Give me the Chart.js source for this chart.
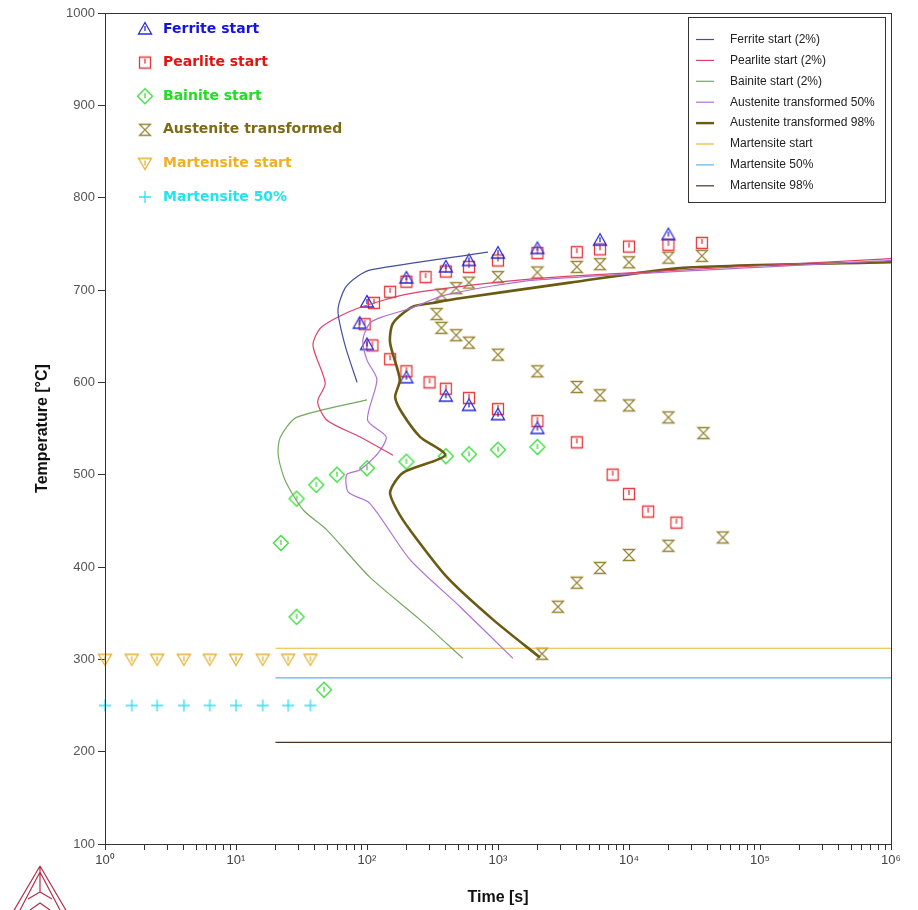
<!DOCTYPE html>
<html>
<head>
<meta charset="utf-8">
<script src="https://cdn.jsdelivr.net/npm/chart.js@4.4.1/dist/chart.umd.min.js"></script>
<style>
  html, body { margin: 0; padding: 0; background: #fff; }
  #wrap { width: 918px; height: 910px; }
</style>
</head>
<body>
<div id="wrap"><canvas id="ttt" width="918" height="910"></canvas></div>
<script>
// measured points, [time s, temperature C]
var ferriteStart = [[100,687],[88,664],[100,641],[200,605],[400,585],[600,575],[1000,565],[2000,550],
  [200,713],[400,725],[600,732],[1000,740],[2000,745],[6000,754],[20000,760]];
var pearliteStart = [[113,686],[96,663],[110,640],[150,698],[200,709],[280,714],[400,720],[600,725],
  [1000,732],[2000,740],[4000,741],[6000,744],[10000,747],[20000,749],[36000,751],
  [150,625],[200,612],[300,600],[400,593],[600,583],[1000,571],[2000,558],[4000,535],
  [7500,500],[10000,479],[14000,460],[23000,448]];
var bainiteStart = [[22,426],[29,346],[29,474],[41,489],[59,500],[100,507],[200,514],[400,520],
  [600,522],[1000,527],[2000,530],[47,267]];
var austeniteTransformed = [[370,695],[480,702],[600,708],[1000,714],[2000,719],[4000,725],[6000,728],
  [10000,730],[20000,735],[36000,737],
  [340,674],[370,659],[480,651],[600,643],[1000,630],[2000,612],[4000,595],[6000,586],
  [10000,575],[20000,562],[37000,545],
  [2170,306],[2870,357],[4000,383],[6000,399],[10000,413],[20000,423],[52000,432]];
var martensiteTimes = [1,1.6,2.5,4,6.3,10,16,25,37];
var martensiteStartTemp = 300;
var martensite50Temp = 250;

// calculated curves
var ferriteCurve = [[84,600],[68,640],[60,678],[68,702],[85,715],[109,722],[839,741]];
var pearliteCurve = [[158,521],[88,541],[49.5,559],[42,579],[48,599],[38.7,640],[45,660],[84,680],
  [213,696],[1092,709],[3545,715],[1e6,734]];
var bainiteCurve = [[541,301],[254,343],[105,389],[49.5,440],[32.5,462],[23.7,494],[21,521],
  [21.7,540],[29,562],[100,581]];
var austenite50Curve = [[1300,301],[513,357],[213,408],[105,469],[72,481],[70,500],[88,505],
  [121,523],[140,541],[101,559],[119,603],[100,624],[93,646],[105,664],[132,671],[213,680],
  [408,695],[2000,711],[1e6,732]];
var austenite98Curve = [[2090,302],[916,343],[408,389],[213,440],[169,462],[150,481],[188,502],
  [394,521],[254,541],[185,567],[164,584],[178,603],[150,643],[158,664],[224,682],[319,686],
  [513,691],[3540,708],[25800,724],[1e6,730]];
var msLine = [[20,312],[1e6,312]];
var m50Line = [[20,280],[1e6,280]];
var m98Line = [[20,210],[1e6,210]];

var xTickLabels = ['10\u2070','10\u00b9','10\u00b2','10\u00b3','10\u2074','10\u2075','10\u2076'];

function xy(list) {
  return list.map(function(p) { return {x: p[0], y: p[1]}; });
}

function makeMarker(kind, color) {
  var c = document.createElement('canvas');
  c.width = 18; c.height = 18;
  var g = c.getContext('2d');
  g.strokeStyle = color;
  g.lineWidth = 1.3;
  g.beginPath();
  if (kind === 'tri') {
    g.moveTo(9, 2.5); g.lineTo(15.5, 14); g.lineTo(2.5, 14); g.closePath();
    g.moveTo(9, 6); g.lineTo(9, 11);
  } else if (kind === 'square') {
    g.rect(3.5, 3.5, 11, 11);
    g.moveTo(9, 5); g.lineTo(9, 10);
  } else if (kind === 'diamond') {
    g.moveTo(9, 1.5); g.lineTo(16.5, 9); g.lineTo(9, 16.5); g.lineTo(1.5, 9); g.closePath();
    g.moveTo(9, 6); g.lineTo(9, 11);
  } else if (kind === 'hour') {
    g.moveTo(3.5, 3.5); g.lineTo(14.5, 3.5); g.lineTo(3.5, 14.5); g.lineTo(14.5, 14.5); g.closePath();
  } else if (kind === 'down') {
    g.moveTo(2.5, 4); g.lineTo(15.5, 4); g.lineTo(9, 15); g.closePath();
    g.moveTo(9, 6); g.lineTo(9, 11);
  } else if (kind === 'plus') {
    g.moveTo(9, 3); g.lineTo(9, 15); g.moveTo(3, 9); g.lineTo(15, 9);
  }
  g.stroke();
  return c;
}

var markerSets = [
  {label: 'Ferrite start', data: ferriteStart, kind: 'tri', color: '#2a2ad8', text: '#1414e0'},
  {label: 'Pearlite start', data: pearliteStart, kind: 'square', color: '#e8383c', text: '#e01414'},
  {label: 'Bainite start', data: bainiteStart, kind: 'diamond', color: '#3ade3a', text: '#22dd22'},
  {label: 'Austenite transformed', data: austeniteTransformed, kind: 'hour', color: '#978634', text: '#7d6a14'},
  {label: 'Martensite start', data: martensiteTimes.map(function(t) { return [t, martensiteStartTemp]; }),
    kind: 'down', color: '#e4b030', text: '#f0b020'},
  {label: 'Martensite 50%', data: martensiteTimes.map(function(t) { return [t, martensite50Temp]; }),
    kind: 'plus', color: '#30e0ee', text: '#22e4f0'}
];

var curveSets = [
  {label: 'Ferrite start (2%)', data: ferriteCurve, color: '#44509e', width: 1.2},
  {label: 'Pearlite start (2%)', data: pearliteCurve, color: '#e0406a', width: 1.2},
  {label: 'Bainite start (2%)', data: bainiteCurve, color: '#76a860', width: 1.2},
  {label: 'Austenite transformed 50%', data: austenite50Curve, color: '#b070d0', width: 1.2},
  {label: 'Austenite transformed 98%', data: austenite98Curve, color: '#6a5a12', width: 2.6},
  {label: 'Martensite start', data: msLine, color: '#e8b838', width: 1.2},
  {label: 'Martensite 50%', data: m50Line, color: '#62b4e0', width: 1.2},
  {label: 'Martensite 98%', data: m98Line, color: '#4a3424', width: 1.2}
];

var datasets = [];
curveSets.forEach(function(s) {
  datasets.push({
    label: s.label, data: xy(s.data), showLine: true, borderColor: s.color,
    borderWidth: s.width, pointRadius: 0, tension: 0.25, fill: false
  });
});
markerSets.forEach(function(s) {
  var img = makeMarker(s.kind, s.color);
  s.img = img;
  datasets.push({
    label: s.label, data: xy(s.data), showLine: false, pointStyle: img,
    pointRadius: 8, borderColor: s.color, clip: false
  });
});

// frame, logo and both keys
var decorations = {
  id: 'decorations',
  afterDraw: function(chart) {
    var ctx = chart.ctx, a = chart.chartArea;
    ctx.save();
    ctx.strokeStyle = '#333';
    ctx.lineWidth = 1;
    ctx.strokeRect(a.left + 0.5, a.top + 0.5, a.right - a.left, a.bottom - a.top);

    // marker key, upper left
    ctx.font = 'bold 14px "DejaVu Sans", Verdana, sans-serif';
    ctx.textBaseline = 'middle';
    markerSets.forEach(function(s, i) {
      var y = 29 + i * 33.6;
      ctx.drawImage(s.img, 145 - 9, y - 9);
      ctx.fillStyle = s.text;
      ctx.fillText(s.label, 163, y);
    });

    // curve key, upper right
    ctx.fillStyle = '#fff';
    ctx.fillRect(688, 17, 197, 185);
    ctx.strokeStyle = '#333';
    ctx.strokeRect(688.5, 17.5, 197, 185);
    ctx.font = '12px "Liberation Sans", Arial, sans-serif';
    curveSets.forEach(function(s, i) {
      var y = 39.5 + i * 20.9;
      ctx.strokeStyle = s.color;
      ctx.lineWidth = s.width > 2 ? 2.4 : 1.2;
      ctx.beginPath();
      ctx.moveTo(696, y); ctx.lineTo(714, y);
      ctx.stroke();
      ctx.fillStyle = '#222';
      ctx.fillText(s.label, 730, y);
    });

    // logo mark
    ctx.strokeStyle = '#b0304c';
    ctx.lineWidth = 1.2;
    ctx.beginPath();
    ctx.moveTo(40, 866); ctx.lineTo(13, 912); ctx.moveTo(40, 866); ctx.lineTo(67, 912);
    ctx.moveTo(40, 866); ctx.lineTo(40, 892);
    ctx.moveTo(40, 872); ctx.lineTo(20, 910); ctx.moveTo(40, 872); ctx.lineTo(60, 910);
    ctx.moveTo(28, 899); ctx.lineTo(40, 892); ctx.lineTo(52, 899);
    ctx.moveTo(30, 910); ctx.lineTo(40, 903); ctx.lineTo(50, 910);
    ctx.stroke();
    ctx.restore();
  }
};

new Chart(document.getElementById('ttt'), {
  type: 'scatter',
  data: {datasets: datasets},
  options: {
    responsive: false,
    animation: false,
    layout: {padding: {top: 13, right: 27, left: 0, bottom: 0}},
    plugins: {legend: {display: false}, tooltip: {enabled: false}},
    scales: {
      x: {
        type: 'logarithmic', min: 1, max: 1e6,
        afterFit: function(scale) { scale.height = 66; },
        afterBuildTicks: function(scale) {
          var ticks = [];
          for (var e = 0; e < 6; e++) {
            for (var m = 1; m < 10; m++) ticks.push({value: m * Math.pow(10, e)});
          }
          ticks.push({value: 1e6});
          scale.ticks = ticks;
        },
        grid: {drawOnChartArea: false, drawTicks: true, tickLength: 6, color: '#333'},
        border: {color: '#333'},
        ticks: {
          autoSkip: false, maxRotation: 0, padding: 3, color: '#444',
          font: {size: 13, family: '"Liberation Sans", Arial, sans-serif'},
          callback: function(v) {
            var e = Math.log10(v);
            return Math.abs(e - Math.round(e)) < 1e-9 ? xTickLabels[Math.round(e)] : '';
          }
        },
        title: {
          display: true, text: 'Time [s]', color: '#111',
          font: {size: 16, weight: 'bold', family: '"Liberation Sans", Arial, sans-serif'},
          padding: {top: 0, bottom: 3}
        }
      },
      y: {
        min: 100, max: 1000,
        afterFit: function(scale) { scale.width = 105; },
        grid: {drawOnChartArea: false, drawTicks: true, tickLength: 7, color: '#333'},
        border: {color: '#333'},
        ticks: {
          stepSize: 100, padding: 3, color: '#555',
          font: {size: 13, family: '"Liberation Sans", Arial, sans-serif'},
          callback: function(v) { return String(v); }
        },
        title: {
          display: true, text: 'Temperature [\u00b0C]', color: '#111',
          font: {size: 16, weight: 'bold', family: '"Liberation Sans", Arial, sans-serif'},
          padding: {top: 33, bottom: 0}
        }
      }
    }
  },
  plugins: [decorations]
});
</script>
</body>
</html>
